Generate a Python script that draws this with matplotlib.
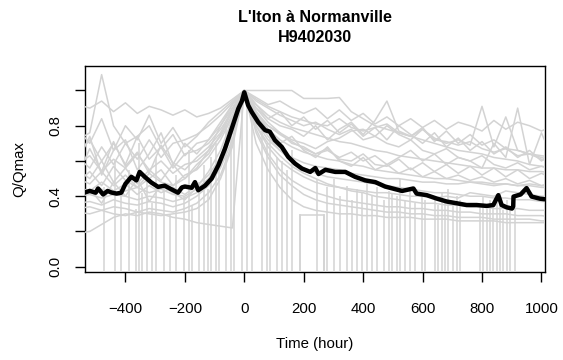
import matplotlib
matplotlib.use("Agg")
import matplotlib.pyplot as plt

plt.rcParams['font.family'] = ['Liberation Sans', 'DejaVu Sans']

# time grid (hours) shared by the grey event curves
hours = [-560, -520, -480, -440, -400, -360, -320, -280, -240, -200,
         -160, -120, -80, -40, 0, 40, 80, 120, 160, 200,
         240, 280, 320, 360, 400, 440, 480, 520, 560, 600,
         640, 680, 720, 760, 800, 840, 880, 920, 960, 1000, 1040]

ev01 = [0.92, 0.90, 0.94, 0.88, 0.93, 0.87, 0.91, 0.89, 0.86, 0.89,
        0.85, 0.87, 0.90, 0.95, 1.00, 0.92, 0.86, 0.82, 0.79, 0.77,
        0.75, 0.73, 0.71, 0.70, 0.68, 0.66, 0.65, 0.63, 0.62, 0.61,
        0.60, 0.59, 0.58, 0.57, 0.56, 0.56, 0.55, 0.55, 0.54, 0.54, 0.53]
ev02 = [0.72, 0.76, 1.09, 0.80, 0.70, 0.74, 0.80, 0.67, 0.75, 0.63,
        0.70, 0.72, 0.80, 0.90, 1.00, 0.95, 0.91, 0.88, 0.85, 0.83,
        0.81, 0.80, 0.84, 0.79, 0.77, 0.79, 0.81, 0.76, 0.74, 0.78,
        0.72, 0.71, 0.69, 0.71, 0.67, 0.65, 0.67, 0.63, 0.64, 0.61, 0.60]
ev03 = [0.55, 0.50, 0.60, 0.48, 0.56, 0.47, 0.55, 0.49, 0.58, 0.50,
        0.58, 0.64, 0.75, 0.88, 1.00, 1.00, 1.00, 1.00, 1.00, 0.955,
        0.955, 0.955, 0.96, 0.88, 0.84, 0.80, 0.78, 0.76, 0.74, 0.72,
        0.70, 0.68, 0.66, 0.65, 0.64, 0.62, 0.61, 0.60, 0.58, 0.57, 0.56]
ev04 = [0.64, 0.72, 0.60, 0.70, 0.58, 0.74, 0.61, 0.68, 0.56, 0.64,
        0.66, 0.70, 0.78, 0.88, 1.00, 0.90, 0.84, 0.80, 0.78, 0.74,
        0.80, 0.72, 0.78, 0.82, 0.75, 0.83, 0.94, 0.77, 0.74, 0.79,
        0.71, 0.77, 0.70, 0.75, 0.69, 0.72, 0.67, 0.66, 0.64, 0.63, 0.62]
ev05 = [0.58, 0.63, 0.54, 0.61, 0.56, 0.64, 0.55, 0.60, 0.53, 0.58,
        0.60, 0.66, 0.74, 0.86, 1.00, 0.86, 0.78, 0.72, 0.68, 0.65,
        0.63, 0.61, 0.60, 0.58, 0.57, 0.55, 0.54, 0.53, 0.52, 0.51,
        0.50, 0.50, 0.49, 0.48, 0.48, 0.47, 0.47, 0.46, 0.46, 0.45, 0.45]
ev06 = [0.48, 0.54, 0.46, 0.57, 0.49, 0.45, 0.53, 0.48, 0.46, 0.52,
        0.55, 0.62, 0.72, 0.85, 1.00, 0.88, 0.80, 0.76, 0.72, 0.70,
        0.67, 0.71, 0.73, 0.77, 0.78, 0.74, 0.80, 0.75, 0.72, 0.78,
        0.73, 0.70, 0.72, 0.69, 0.91, 0.68, 0.85, 0.66, 0.64, 0.62, 0.60]
ev07 = [0.45, 0.43, 0.48, 0.43, 0.47, 0.41, 0.46, 0.42, 0.45, 0.41,
        0.46, 0.52, 0.62, 0.80, 1.00, 0.84, 0.74, 0.66, 0.60, 0.56,
        0.53, 0.51, 0.50, 0.49, 0.48, 0.47, 0.46, 0.45, 0.44, 0.43,
        0.42, 0.42, 0.41, 0.40, 0.40, 0.39, 0.39, 0.38, 0.38, 0.37, 0.37]
ev08 = [0.40, 0.41, 0.39, 0.41, 0.40, 0.38, 0.40, 0.39, 0.37, 0.39,
        0.42, 0.48, 0.58, 0.76, 1.00, 0.78, 0.64, 0.55, 0.49, 0.45,
        0.42, 0.40, 0.38, 0.37, 0.36, 0.35, 0.34, 0.34, 0.33, 0.33,
        0.32, 0.32, 0.31, 0.31, 0.30, 0.30, 0.30, 0.29, 0.29, 0.29, 0.28]
ev09 = [0.36, 0.37, 0.35, 0.38, 0.36, 0.35, 0.37, 0.36, 0.34, 0.36,
        0.40, 0.46, 0.56, 0.72, 1.00, 0.82, 0.72, 0.66, 0.62, 0.59,
        0.57, 0.56, 0.55, 0.53, 0.52, 0.51, 0.50, 0.50, 0.49, 0.48,
        0.48, 0.47, 0.47, 0.48, 0.47, 0.46, 0.47, 0.46, 0.47, 0.46, 0.46]
ev10 = [0.33, 0.34, 0.32, 0.34, 0.33, 0.31, 0.33, 0.32, 0.31, 0.33,
        0.36, 0.42, 0.52, 0.70, 1.00, 0.80, 0.70, 0.63, 0.57, 0.53,
        0.50, 0.47, 0.45, 0.43, 0.42, 0.40, 0.39, 0.38, 0.37, 0.36,
        0.36, 0.35, 0.35, 0.34, 0.34, 0.33, 0.33, 0.33, 0.32, 0.32, 0.32]
ev11 = [0.31, 0.30, 0.32, 0.30, 0.29, 0.31, 0.30, 0.29, 0.30, 0.31,
        0.33, 0.38, 0.50, 0.68, 1.00, 0.76, 0.62, 0.52, 0.46, 0.41,
        0.38, 0.36, 0.35, 0.34, 0.33, 0.32, 0.31, 0.31, 0.30, 0.30,
        0.29, 0.29, 0.28, 0.28, 0.28, 0.27, 0.27, 0.27, 0.27, 0.26, 0.26]
ev12 = [0.19, 0.20, 0.24, 0.28, 0.30, 0.29, 0.31, 0.30, 0.28, 0.27,
        0.25, 0.24, 0.23, 0.22, 1.00, 0.70, 0.55, 0.45, 0.38, 0.34,
        0.32, 0.31, 0.30, 0.30, 0.29, 0.29, 0.28, 0.28, 0.28, 0.27,
        0.27, 0.27, 0.26, 0.26, 0.26, 0.26, 0.25, 0.25, 0.25, 0.25, 0.25]
ev13 = [0.62, 0.56, 0.68, 0.58, 0.70, 0.61, 0.72, 0.62, 0.70, 0.72,
        0.75, 0.80, 0.86, 0.93, 1.00, 0.96, 0.92, 0.94, 0.90, 0.87,
        0.90, 0.84, 0.89, 0.83, 0.87, 0.81, 0.85, 0.80, 0.84, 0.79,
        0.83, 0.78, 0.82, 0.80, 0.77, 0.83, 0.78, 0.82, 0.80, 0.77, 0.80]
ev14 = [0.52, 0.67, 0.54, 0.71, 0.57, 0.65, 0.53, 0.69, 0.59, 0.55,
        0.62, 0.68, 0.76, 0.90, 1.00, 0.87, 0.80, 0.75, 0.71, 0.67,
        0.64, 0.67, 0.61, 0.60, 0.64, 0.58, 0.57, 0.61, 0.55, 0.59,
        0.54, 0.58, 0.53, 0.57, 0.52, 0.56, 0.51, 0.55, 0.50, 0.53, 0.50]
ev15 = [0.43, 0.42, 0.44, 0.41, 0.43, 0.45, 0.42, 0.44, 0.41, 0.40,
        0.44, 0.50, 0.60, 0.78, 1.00, 0.80, 0.68, 0.60, 0.55, 0.51,
        0.48, 0.46, 0.45, 0.44, 0.43, 0.42, 0.42, 0.41, 0.40, 0.40,
        0.39, 0.40, 0.39, 0.42, 0.41, 0.40, 0.43, 0.42, 0.41, 0.40, 0.40]
ev16 = [0.78, 0.70, 0.84, 0.66, 0.80, 0.72, 0.86, 0.70, 0.79, 0.68,
        0.74, 0.82, 0.88, 0.94, 1.00, 0.92, 0.84, 0.88, 0.80, 0.85,
        0.78, 0.83, 0.76, 0.81, 0.74, 0.79, 0.72, 0.80, 0.75, 0.70,
        0.76, 0.68, 0.73, 0.66, 0.71, 0.64, 0.68, 0.62, 0.66, 0.60, 0.64]
ev17 = [0.60, 0.74, 0.52, 0.66, 0.72, 0.55, 0.64, 0.76, 0.58, 0.70,
        0.64, 0.72, 0.82, 0.92, 1.00, 0.88, 0.78, 0.70, 0.74, 0.66,
        0.62, 0.68, 0.60, 0.57, 0.62, 0.55, 0.58, 0.53, 0.56, 0.51,
        0.54, 0.50, 0.52, 0.49, 0.51, 0.48, 0.50, 0.47, 0.49, 0.46, 0.48]
ev18 = [0.38, 0.44, 0.36, 0.48, 0.40, 0.50, 0.37, 0.46, 0.42, 0.38,
        0.45, 0.54, 0.66, 0.84, 1.00, 0.90, 0.82, 0.76, 0.70, 0.68,
        0.64, 0.66, 0.62, 0.65, 0.60, 0.63, 0.58, 0.62, 0.66, 0.60,
        0.64, 0.58, 0.62, 0.60, 0.56, 0.70, 0.62, 0.90, 0.58, 0.76, 0.60]
ev19 = [0.50, 0.47, 0.54, 0.46, 0.52, 0.45, 0.50, 0.55, 0.46, 0.50,
        0.56, 0.66, 0.80, 0.92, 1.00, 0.94, 0.90, 0.86, 0.83, 0.80,
        0.82, 0.78, 0.75, 0.78, 0.72, 0.74, 0.70, 0.68, 0.72, 0.66,
        0.64, 0.67, 0.62, 0.60, 0.63, 0.58, 0.56, 0.59, 0.55, 0.57, 0.55]
events = [ev01, ev02, ev03, ev04, ev05, ev06, ev07, ev08, ev09, ev10,
          ev11, ev12, ev13, ev14, ev15, ev16, ev17, ev18, ev19]

# short fragment of an event surrounded by missing values
frag_hours = [188, 188, 267, 267]
frag_q = [-0.1, 0.295, 0.295, -0.1]

# missing values (coded negative) -> vertical drops to the bottom
drop_hours = [-472, -436, -416, -388, -365, -354, -343, -326, -309, -298,
              -270, -250, -231, -203, -186, -175, -152, -136, -122, -113,
              -96, -85, -63, -46, -35,
              -8, 9, 26, 60, 76, 88, 110, 127, 144, 160,
              188, 245, 267, 278, 301, 323, 346, 362, 379, 396,
              413, 430, 447, 469, 486,
              496, 513, 524, 541, 558, 574, 597, 608, 642, 653,
              664, 675, 686, 703, 715, 726, 793, 804, 816, 827,
              838, 849, 860, 871, 883, 894, 911]
drop_tops = [0.45, 0.60, 0.40, 0.55, 0.33, 0.70, 0.42, 0.50, 0.36, 0.62,
             0.45, 0.30, 0.52, 0.40, 0.66, 0.35, 0.48, 0.58, 0.44, 0.62,
             0.70, 0.55, 0.80, 0.75, 0.90,
             0.95, 0.98, 0.90, 0.80, 0.70, 0.75, 0.62, 0.60, 0.55, 0.66,
             0.30, 0.50, 0.30, 0.45, 0.50, 0.40, 0.46, 0.38, 0.44, 0.42,
             0.48, 0.40, 0.45, 0.38, 0.43,
             0.42, 0.40, 0.50, 0.38, 0.45, 0.36, 0.42, 0.38, 0.40, 0.35,
             0.42, 0.37, 0.44, 0.36, 0.40, 0.38, 0.35, 0.40, 0.33, 0.38,
             0.34, 0.40, 0.36, 0.32, 0.38, 0.34, 0.33]

# mean curve
mean_hours = [-540, -520, -500, -492, -475, -460, -447, -430, -414, -400,
              -380, -363, -352, -335, -313, -290, -268, -246, -223, -210,
              -200, -177, -166, -155, -132, -110, -87, -65, -43, -20,
              -8, 0, 13, 25, 47, 70, 86, 103, 126, 148,
              171, 194, 222, 239, 250, 273, 306, 340, 373, 407,
              441, 474, 508, 531, 569, 580, 614, 647, 681, 715,
              748, 782, 816, 838, 855, 866, 883, 901, 905, 906,
              930, 950, 967, 995, 1025]
mean_q = [0.42, 0.43, 0.42, 0.444, 0.41, 0.43, 0.421, 0.415, 0.42, 0.47,
          0.51, 0.49, 0.538, 0.51, 0.478, 0.453, 0.46, 0.44, 0.42, 0.45,
          0.455, 0.448, 0.48, 0.434, 0.46, 0.50, 0.576, 0.67, 0.78, 0.897,
          0.94, 0.99, 0.916, 0.878, 0.82, 0.775, 0.766, 0.718, 0.68, 0.623,
          0.585, 0.557, 0.538, 0.56, 0.526, 0.55, 0.538, 0.538, 0.51, 0.49,
          0.48, 0.455, 0.44, 0.43, 0.444, 0.415, 0.406, 0.387, 0.37, 0.36,
          0.35, 0.35, 0.345, 0.35, 0.406, 0.35, 0.337, 0.33, 0.342, 0.398,
          0.41, 0.446, 0.398, 0.386, 0.38]

x_ticks = [-400, -200, 0, 200, 400, 600, 800, 1000]
y_ticks = [0.0, 0.2, 0.4, 0.6, 0.8, 1.0]
y_labels = ["0.0", "", "0.4", "", "0.8", ""]

fig = plt.figure(figsize=(5.63, 3.6), dpi=100)
ax = fig.add_axes([85 / 563, 1 - 272 / 360, 460 / 563, 206 / 360])

grey = "#d3d3d3"
for ev in events:
    ax.plot(hours, ev, color=grey, lw=1.1, zorder=3)
ax.plot(frag_hours, frag_q, color=grey, lw=1.1, zorder=3)
ax.vlines(drop_hours, -0.1, drop_tops, color=grey, lw=1.1, zorder=3)
ax.plot(mean_hours, mean_q, color="black", lw=3.2, zorder=4,
        solid_joinstyle="round", solid_capstyle="butt")

ax.set_xlim(-536, 1012)
ax.set_ylim(-0.03, 1.139)
ax.set_xticks(x_ticks)
ax.set_yticks(y_ticks)
ax.set_yticklabels(y_labels, rotation=90, va="center")
ax.tick_params(axis="x", length=7.5, width=1, pad=14, labelsize=10.8)
ax.tick_params(axis="y", length=7.5, width=1, pad=9, labelsize=10.8)
for s in ax.spines.values():
    s.set_linewidth(1.0)

ax.set_xlabel("Time (hour)", fontsize=10.8, labelpad=15)
ax.set_ylabel("Q/Qmax", fontsize=10.8, labelpad=16)

fig.text(315 / 563, 1 - 18 / 360, "L'Iton à Normanville", ha="center",
         va="center", fontsize=11.6, fontweight="bold")
fig.text(315 / 563, 1 - 38 / 360, "H9402030", ha="center",
         va="center", fontsize=11.6, fontweight="bold")

fig.savefig("out.png", dpi=100)
